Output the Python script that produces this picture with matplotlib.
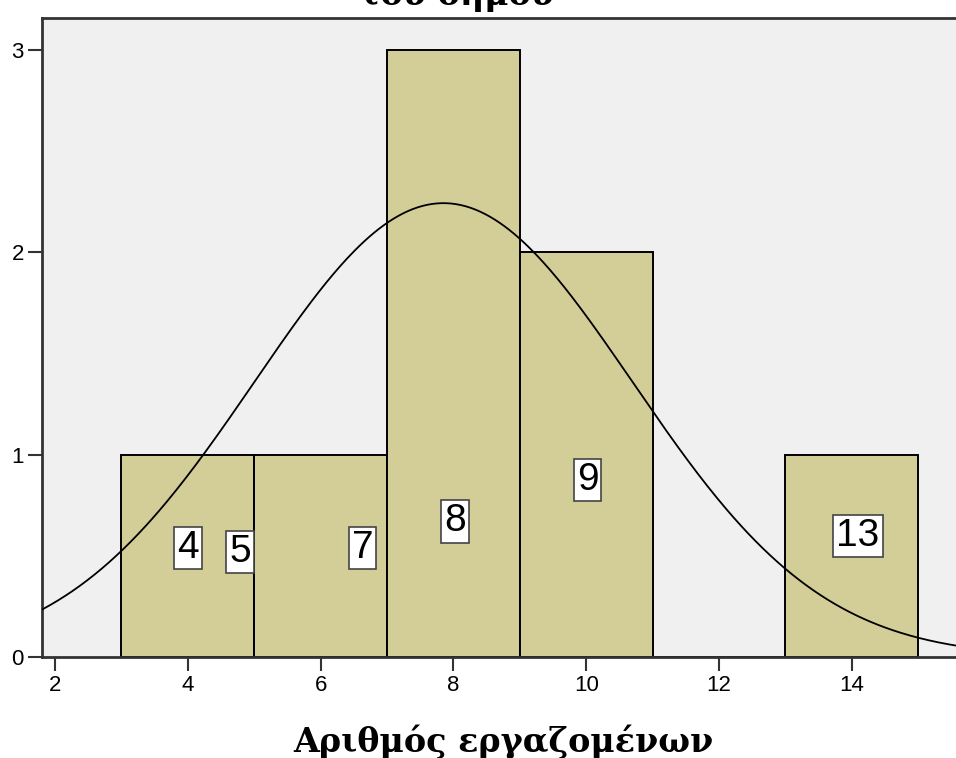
import numpy as np
import matplotlib.pyplot as plt

# Histogram bins (edges) and counts
bin_edges = [3, 5, 7, 9, 11, 13, 15]
counts = [1, 1, 3, 2, 0, 1]

# Normal curve parameters
n_total = 8
curve_mean = 7.85
curve_sd = 2.845

# Case labels shown in white boxes
case_labels = ["4", "5", "7", "8", "9", "13"]
label_x = [4.0, 4.79, 6.63, 8.02, 10.02, 14.09]
label_y = [0.54, 0.52, 0.54, 0.67, 0.875, 0.60]

fig = plt.figure(figsize=(9.56, 7.58), dpi=100)
ax = fig.add_axes([0.0439, 0.1332, 0.9561, 0.8431])
ax.set_facecolor('#F0F0F0')

# Bars
lefts = np.array(bin_edges[:-1])
widths = np.diff(bin_edges)
ax.bar(lefts, counts, width=widths, align='edge', color='#D3CD98',
       edgecolor='black', linewidth=1.4, zorder=2)

# Normal curve scaled to counts
xs = np.linspace(1.5, 16, 400)
bw = widths[0]
ys = n_total * bw / (curve_sd * np.sqrt(2 * np.pi)) * np.exp(-(xs - curve_mean) ** 2 / (2 * curve_sd ** 2))
ax.plot(xs, ys, color='black', linewidth=1.3, zorder=4)

# Case labels
for txt, lx, ly in zip(case_labels, label_x, label_y):
    ax.text(lx, ly, txt, ha='center', va='center', fontsize=28,
            family='Liberation Sans', zorder=5,
            bbox=dict(boxstyle='square,pad=0.08', facecolor='white',
                      edgecolor='#444444', linewidth=1.2))

ax.set_xlim(1.804, 15.569)
ax.set_ylim(0, 3.159)
ax.set_xticks([2, 4, 6, 8, 10, 12, 14])
ax.set_yticks([0, 1, 2, 3])

for side in ['left', 'top', 'bottom']:
    ax.spines[side].set_color('#333333')
    ax.spines[side].set_linewidth(2)
ax.spines['right'].set_visible(False)

ax.tick_params(axis='both', direction='out', length=10, width=1.5,
               color='#333333', labelsize=16, pad=3)
for lab in ax.get_xticklabels() + ax.get_yticklabels():
    lab.set_family('Liberation Sans')

# Axis label and (cut-off) title
fig.text(503 / 956, 1 - 742 / 758, "Αριθμός εργαζομένων", ha='center', va='center',
         fontsize=24, fontweight='bold', family='DejaVu Serif')
fig.text(456 / 956, 1 - 5 / 758, "του δήμου", ha='center', va='baseline',
         fontsize=24, fontweight='bold', family='DejaVu Serif')

fig.savefig('out.png', dpi=100, facecolor='white')
